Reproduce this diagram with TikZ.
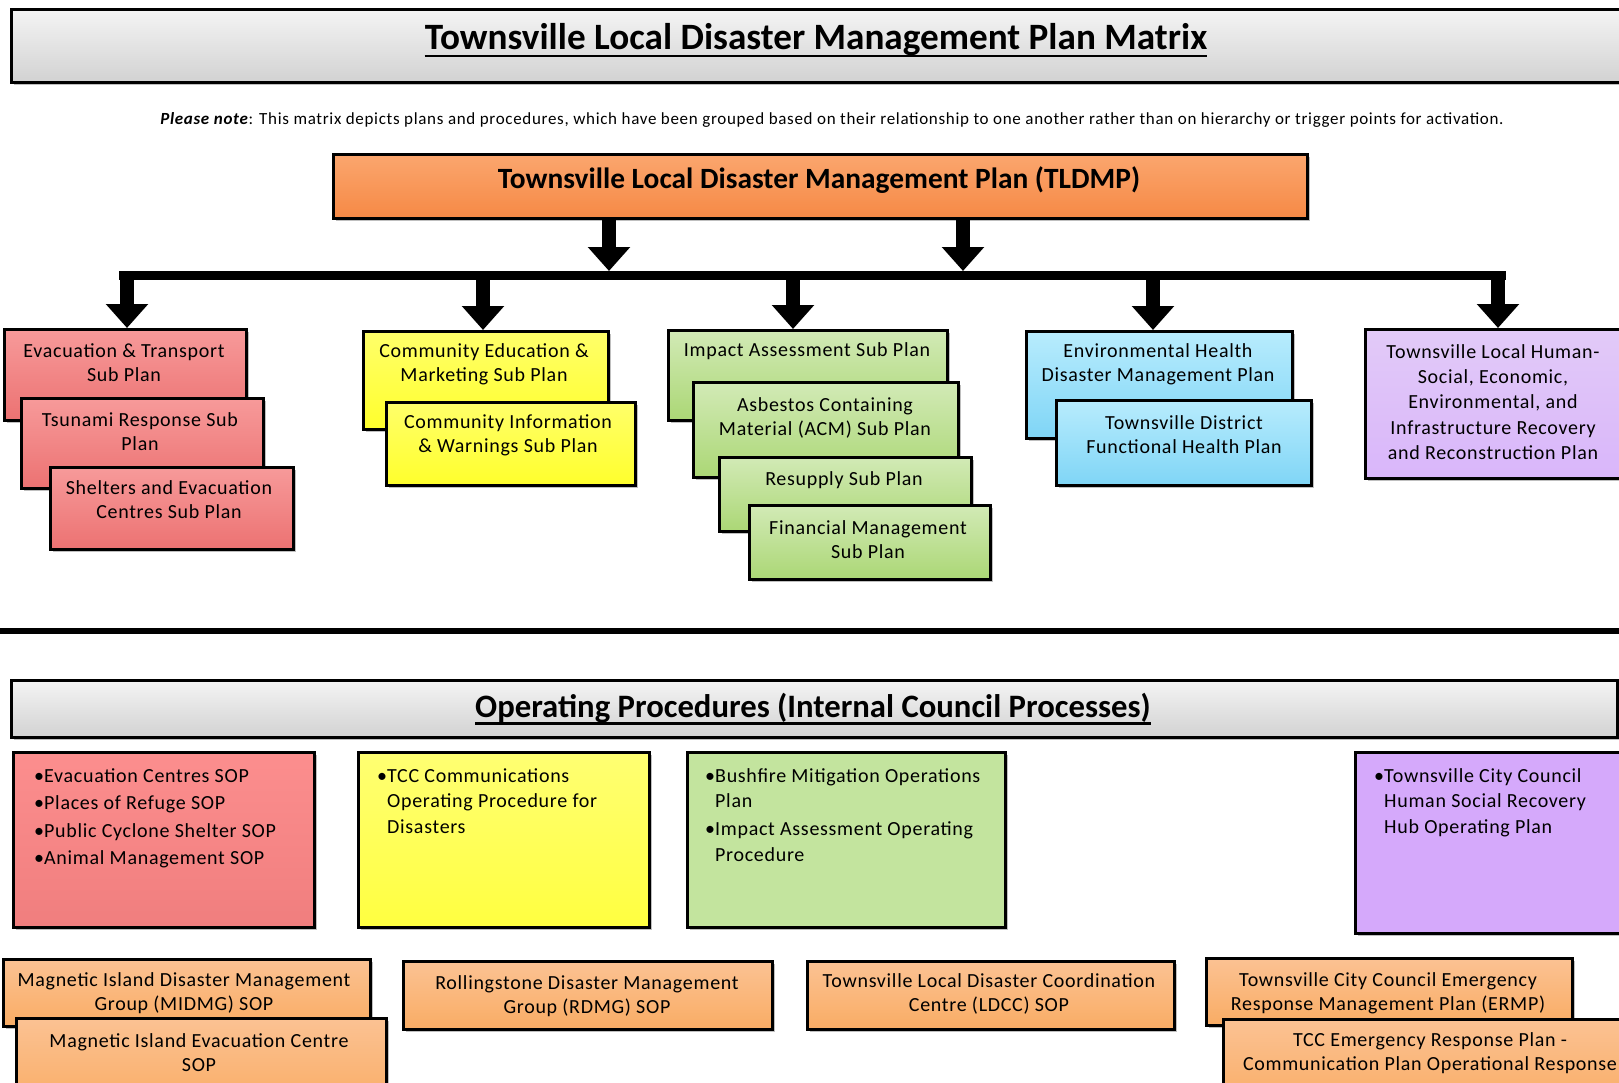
\documentclass[tikz,border=0pt]{standalone}
\usepackage{fontspec}
\setmainfont{Carlito}
\newfontfamily\boxfont[LetterSpace=3.5]{Carlito}
\newfontfamily\notefont[LetterSpace=4]{Carlito}
\usetikzlibrary{arrows.meta,shadows,calc}
\definecolor{grayT}{HTML}{F4F4F4}\definecolor{grayB}{HTML}{D2D2D2}
\definecolor{orT}{HTML}{FBA66E}\definecolor{orB}{HTML}{F68945}
\definecolor{redT}{HTML}{F79A9A}\definecolor{redB}{HTML}{EC7272}
\definecolor{yelT}{HTML}{FFFF6A}\definecolor{yelB}{HTML}{FFFF2C}
\definecolor{grnT}{HTML}{D2EAB6}\definecolor{grnB}{HTML}{ABD775}
\definecolor{bluT}{HTML}{B8ECFD}\definecolor{bluB}{HTML}{7FD5F6}
\definecolor{purT}{HTML}{E2CAF8}\definecolor{purB}{HTML}{D9B6FA}
\definecolor{boT}{HTML}{FBC293}\definecolor{boB}{HTML}{F9AC64}
\definecolor{sRedT}{HTML}{FC8E8E}\definecolor{sRedB}{HTML}{F07E7E}
\definecolor{sYelT}{HTML}{FFFF72}\definecolor{sYelB}{HTML}{FFFF40}
\definecolor{sGrn}{HTML}{C3E49E}
\definecolor{sPur}{HTML}{D5A9FB}
\newcommand{\bitem}[1]{\makebox[10pt][l]{\textbullet}#1}
\newcommand{\bcont}{\hspace*{10pt}}
\begin{document}
\begin{tikzpicture}[x=1pt,y=-1pt,
  box/.style={draw=black, line width=2.6pt, anchor=north west, inner sep=0pt,
    drop shadow={shadow xshift=2.5pt, shadow yshift=-2.5pt, fill=black, opacity=0.25}},
  gbox/.style={box, top color=grayT, bottom color=grayB},
  rbox/.style={box, top color=redT, bottom color=redB},
  ybox/.style={box, top color=yelT, bottom color=yelB},
  grbox/.style={box, top color=grnT, bottom color=grnB},
  bbox/.style={box, top color=bluT, bottom color=bluB},
  pbox/.style={box, top color=purT, bottom color=purB},
  obox/.style={box, top color=boT, bottom color=boB},
  txt/.style={align=center, font=\boxfont\fontsize{20}{24}\selectfont, inner sep=0pt},
  lst/.style={align=left, anchor=north west, font=\boxfont\fontsize{20}{25.5}\selectfont, inner sep=0pt},
  blk/.style={line width=14pt, -{Triangle[width=41pt,length=24pt]}},
  uline/.style={line width=2.4pt},
]
\useasboundingbox (0,0) rectangle (1619,1082);

% Title
\node[gbox, minimum width=1640pt, minimum height=73pt] (titlebox) at (10,8) {};
\node[inner sep=0pt, font=\fontsize{37.2}{44}\selectfont\bfseries] (title) at (816,40) {Townsville Local Disaster Management Plan Matrix};
\draw[uline] ([yshift=-6pt]title.base west) -- ([yshift=-6pt]title.base east);

\node[inner sep=0pt, font=\notefont\fontsize{17}{20}\selectfont] (note) at (832,120) {\textbf{\textit{Please note}}: This matrix depicts plans and procedures, which have been grouped based on their relationship to one another rather than on hierarchy or trigger points for activation.};

% TLDMP
\node[box, top color=orT, bottom color=orB, minimum width=974pt, minimum height=64pt] (tldmp) at (332,153) {};
\node[inner sep=0pt, font=\fontsize{29.4}{34}\selectfont\bfseries] (tldmpT) at (819,180) {Townsville Local Disaster Management Plan (TLDMP)};

% bus
\coordinate (busL) at (119,275);
\coordinate (busR) at (1506,275);
\draw[line width=9pt] (busL) -- (busR);
\coordinate (t1) at (609,271);
\coordinate (t2) at (963,271);
\draw[blk] (tldmp.south -| t1) -- (t1);
\draw[blk] (tldmp.south -| t2) -- (t2);

% Red group
\node[rbox, minimum width=242pt, minimum height=91pt] (evac) at (3,328) {};
\node[txt] (evacT) at (124,363) {Evacuation \& Transport\\Sub Plan};
\node[rbox, minimum width=242pt, minimum height=90pt] (tsun) at (20,397) {};
\node[txt] (tsunT) at (140,432) {Tsunami Response Sub\\Plan};
\node[rbox, minimum width=243pt, minimum height=82pt] (shel) at (49,466) {};
\node[txt] (shelT) at (169,500) {Shelters and Evacuation\\Centres Sub Plan};

% Yellow group
\node[ybox, minimum width=245pt, minimum height=98pt] (cedu) at (362,330) {};
\node[txt] (ceduT) at (484,364) {Community Education \&\\Marketing Sub Plan};
\node[ybox, minimum width=249pt, minimum height=83pt] (cinf) at (385,401) {};
\node[txt] (cinfT) at (508,435) {Community Information\\\& Warnings Sub Plan};

% Green group
\node[grbox, minimum width=279pt, minimum height=90pt] (imp) at (667,329) {};
\node[txt] (impT) at (807,351) {Impact Assessment Sub Plan};
\node[grbox, minimum width=265pt, minimum height=95pt] (asb) at (692,381) {};
\node[txt] (asbT) at (825,418) {Asbestos Containing\\Material (ACM) Sub Plan};
\node[grbox, minimum width=252pt, minimum height=74pt] (res) at (718,456) {};
\node[txt] (resT) at (844,480) {Resupply Sub Plan};
\node[grbox, minimum width=241pt, minimum height=74pt] (fin) at (748,504) {};
\node[txt] (finT) at (868,540) {Financial Management\\Sub Plan};

% Blue group
\node[bbox, minimum width=266pt, minimum height=107pt] (env) at (1025,330) {};
\node[txt] (envT) at (1158,364) {Environmental Health\\Disaster Management Plan};
\node[bbox, minimum width=255pt, minimum height=85pt] (dist) at (1055,399) {};
\node[txt] (distT) at (1184,435) {Townsville District\\Functional Health Plan};

% Purple
\node[pbox, minimum width=268pt, minimum height=149pt] (rec) at (1364,328) {};
\node[txt, font=\boxfont\fontsize{20}{25.2}\selectfont] (recT) at (1493,402) {Townsville Local Human-\\Social, Economic,\\Environmental, and\\Infrastructure Recovery\\and Reconstruction Plan};

% down arrows
\coordinate (d1) at (127,275);
\coordinate (d2) at (483,275);
\coordinate (d3) at (793,275);
\coordinate (d4) at (1153,275);
\coordinate (d5) at (1498,275);
\draw[blk] (d1) -- (d1 |- evac.north);
\draw[blk] (d2) -- (d2 |- cedu.north);
\draw[blk] (d3) -- (d3 |- imp.north);
\draw[blk] (d4) -- (d4 |- env.north);
\draw[blk] (d5) -- (d5 |- rec.north);

% separator
\coordinate (sepL) at (0,631);
\coordinate (sepR) at (1619,631);
\draw[line width=6pt] (sepL) -- (sepR);

% Operating procedures header
\node[gbox, minimum width=1606pt, minimum height=57pt] (opbox) at (10,679) {};
\node[inner sep=0pt, font=\fontsize{32.7}{38}\selectfont\bfseries] (opT) at (813,708) {Operating Procedures (Internal Council Processes)};
\draw[uline] ([yshift=-6pt]opT.base west) -- ([yshift=-6pt]opT.base east);

% SOP boxes
\node[box, top color=sRedT, bottom color=sRedB, minimum width=301pt, minimum height=175pt] (sopR) at (12,751) {};
\node[lst] (sopRT) at (34,768) {\bitem{Evacuation Centres SOP}\\[2pt]\bitem{Places of Refuge SOP}\\[2pt]\bitem{Public Cyclone Shelter SOP}\\[2pt]\bitem{Animal Management SOP}};
\node[box, top color=sYelT, bottom color=sYelB, minimum width=291pt, minimum height=175pt] (sopY) at (357,751) {};
\node[lst] (sopYT) at (377,768) {\bitem{TCC Communications}\\\bcont Operating Procedure for\\\bcont Disasters};
\node[box, fill=sGrn, minimum width=318pt, minimum height=175pt] (sopG) at (686,751) {};
\node[lst] (sopGT) at (705,768) {\bitem{Bushfire Mitigation Operations}\\\bcont Plan\\[2.5pt]\bitem{Impact Assessment Operating}\\\bcont Procedure};
\node[box, fill=sPur, minimum width=290pt, minimum height=181pt] (sopP) at (1354,751) {};
\node[lst] (sopPT) at (1374,768) {\bitem{Townsville City Council}\\\bcont Human Social Recovery\\\bcont Hub Operating Plan};

% bottom orange boxes
\node[obox, minimum width=367pt, minimum height=67pt] (midmg) at (2,958) {};
\node[txt] (midmgT) at (184,993) {Magnetic Island Disaster Management\\Group (MIDMG) SOP};
\node[obox, minimum width=370pt, minimum height=90pt] (mievac) at (15,1017) {};
\node[txt] (mievacT) at (199,1053) {Magnetic Island Evacuation Centre\\SOP};
\node[obox, minimum width=369pt, minimum height=68pt] (rdmg) at (402,960) {};
\node[txt] (rdmgT) at (587,996) {Rollingstone Disaster Management\\Group (RDMG) SOP};
\node[obox, minimum width=367pt, minimum height=68pt] (ldcc) at (806,960) {};
\node[txt] (ldccT) at (989,994) {Townsville Local Disaster Coordination\\Centre (LDCC) SOP};
\node[obox, minimum width=366pt, minimum height=67pt] (ermp) at (1205,957) {};
\node[txt] (ermpT) at (1388,993) {Townsville City Council Emergency\\Response Management Plan (ERMP)};
\node[obox, minimum width=420pt, minimum height=90pt] (tccerp) at (1222,1018) {};
\node[txt] (tccerpT) at (1430,1053) {TCC Emergency Response Plan -\\Communication Plan Operational Response};
\end{tikzpicture}
\end{document}
